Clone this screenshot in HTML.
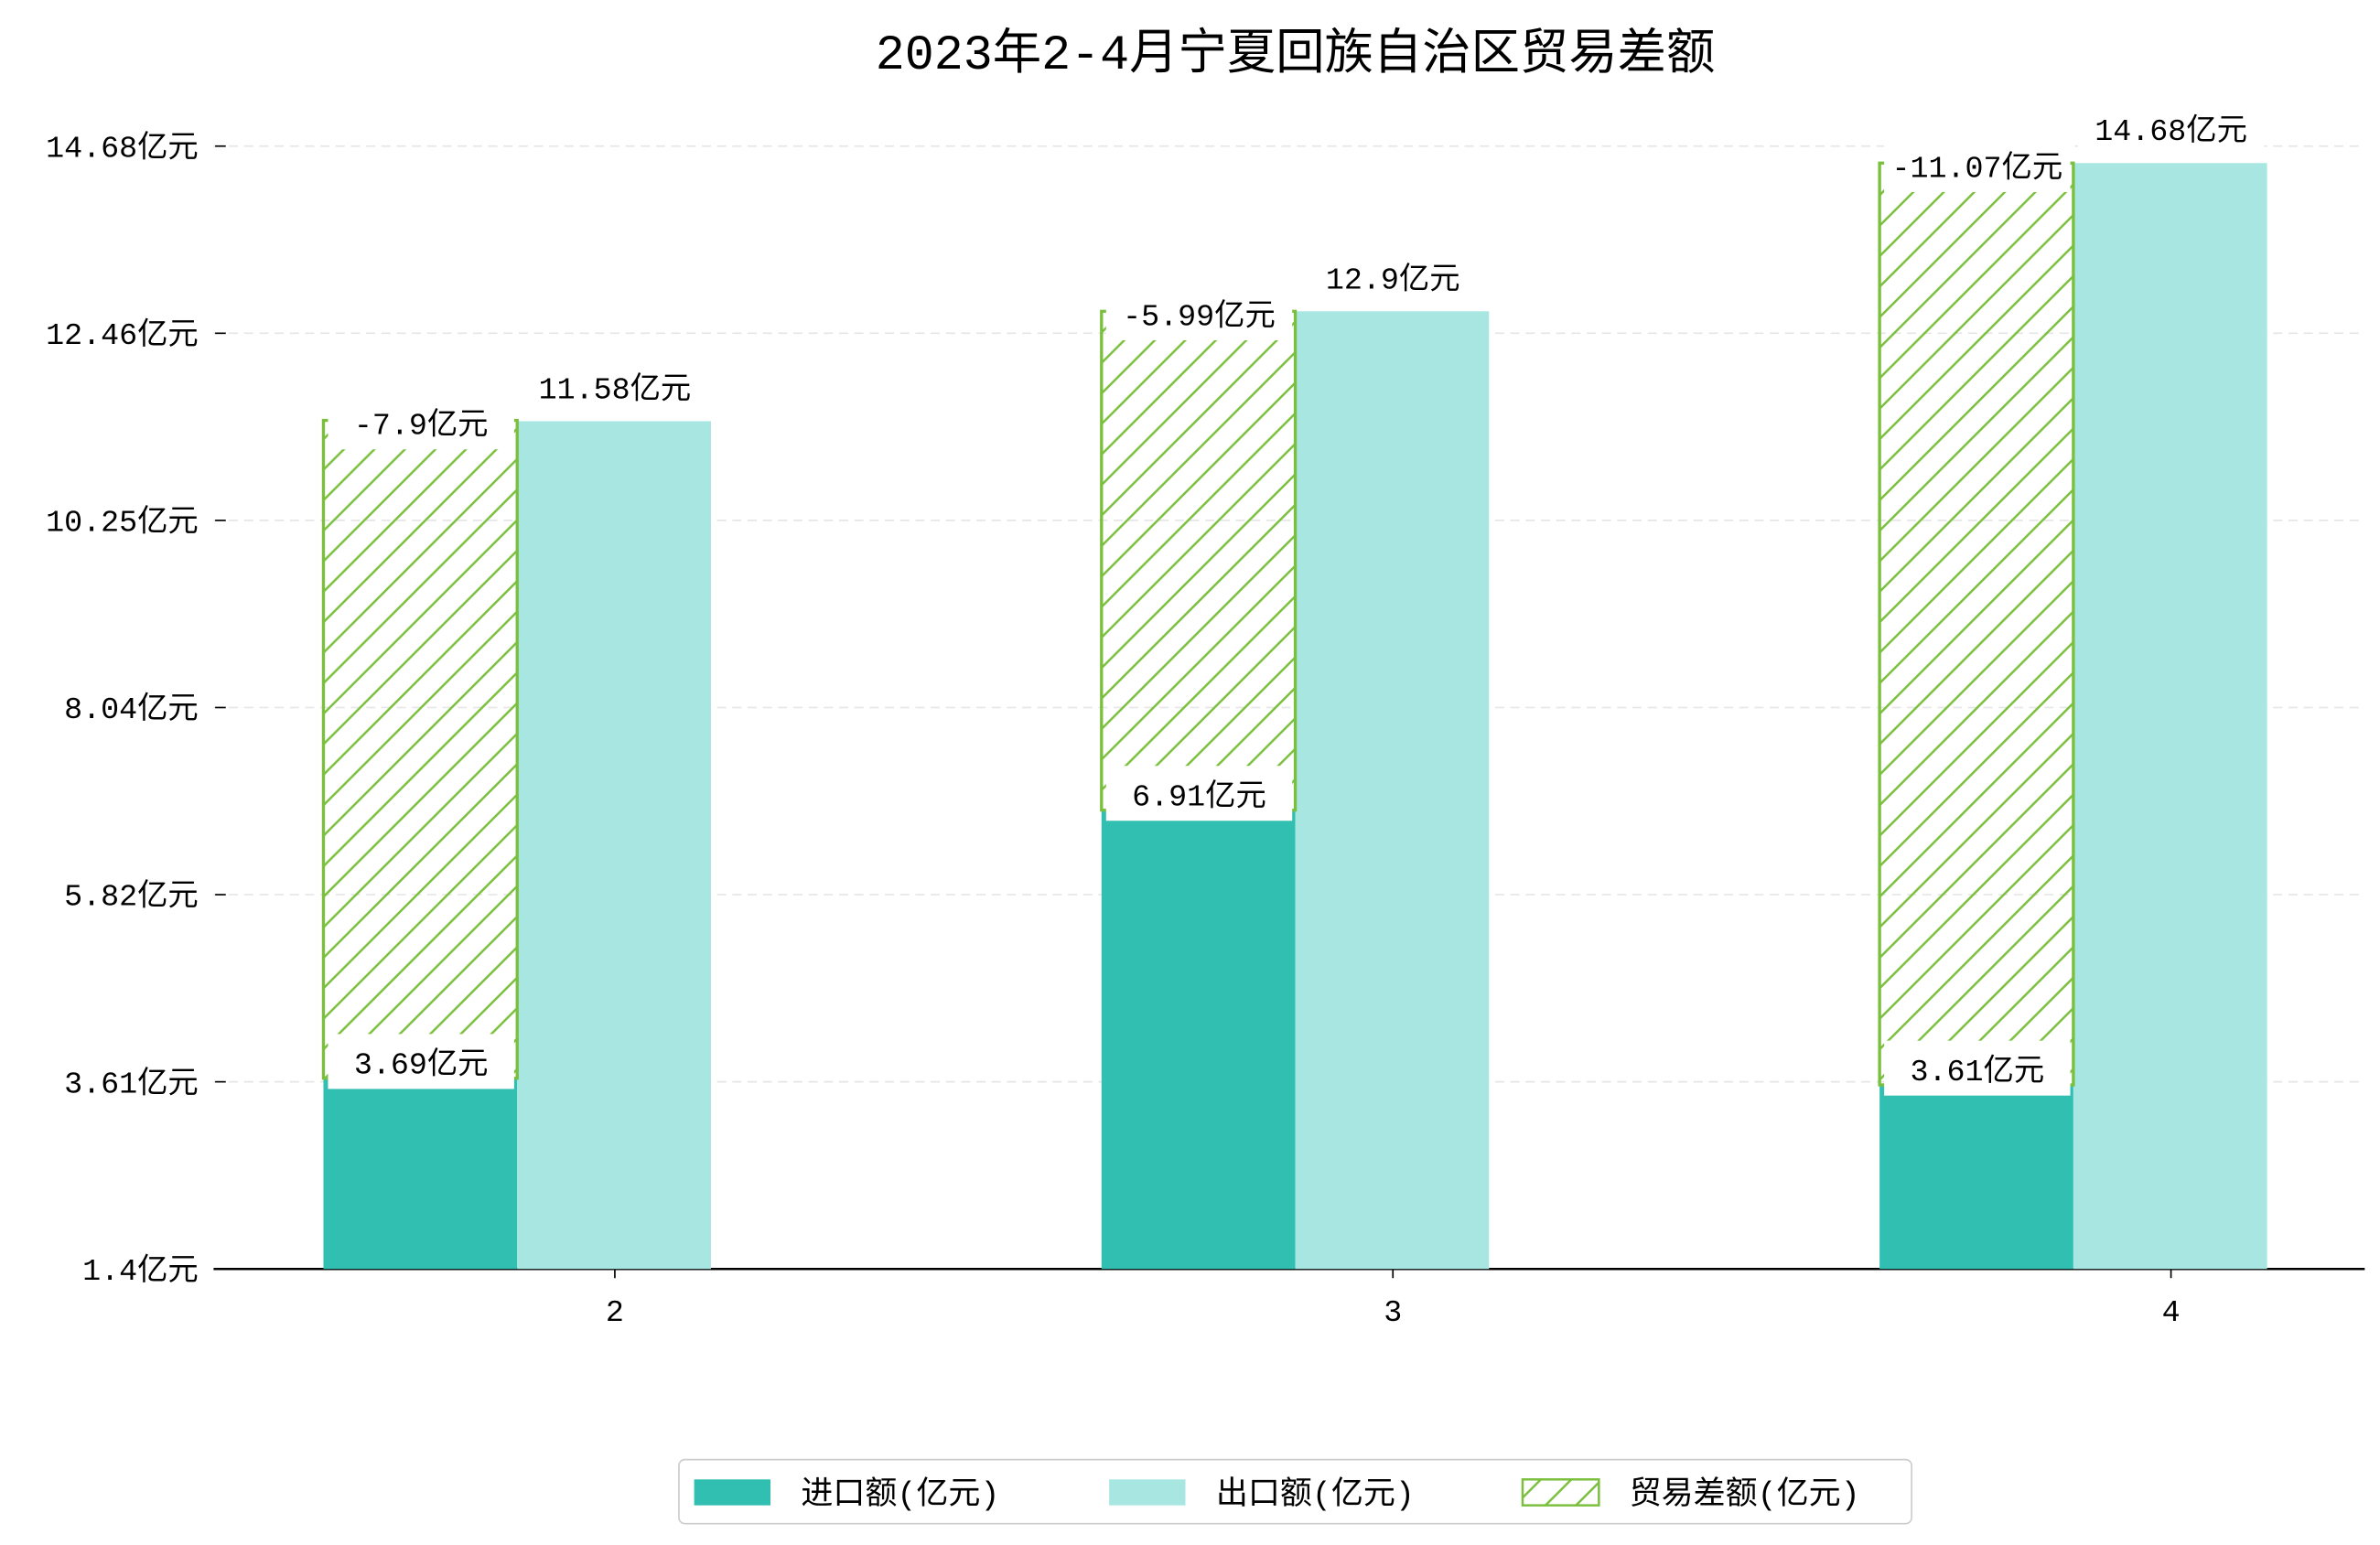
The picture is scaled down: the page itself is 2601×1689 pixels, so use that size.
<!DOCTYPE html>
<html><head><meta charset="utf-8"><style>
html,body{margin:0;padding:0;background:#fff;}
svg{display:block;font-family:"Liberation Mono","Noto Sans CJK SC",monospace;}
</style></head><body>
<svg id="chart" width="2601" height="1689" viewBox="0 0 1560 1013" xmlns="http://www.w3.org/2000/svg">
<defs>
<pattern id="hatch" patternUnits="userSpaceOnUse" width="20" height="20">
<path d="M-5,5 L5,-5 M0,20 L20,0 M15,25 L25,15" stroke="#7bbf3e" stroke-width="1.5"/>
</pattern>
</defs>
<text x="849" y="45" text-anchor="middle" font-size="32" fill="#000">2023年2-4月宁夏回族自治区贸易差额</text>
<g id="grid"></g><g id="bars"></g><g id="labels"></g>
<g>
<rect x="445" y="957" width="808" height="42" rx="4" fill="#fff" stroke="#ccc"/>
<rect x="455" y="970" width="50" height="17" fill="#31bfb2"/>
<text x="525" y="986" font-size="21">进口额(亿元)</text>
<rect x="727" y="970" width="50" height="17" fill="#a8e6e1"/>
<text x="797" y="986" font-size="21">出口额(亿元)</text>
<rect x="998" y="970" width="50" height="17" fill="url(#hatch)" stroke="#7bbf3e" stroke-width="1.5"/>
<text x="1068" y="986" font-size="21">贸易差额(亿元)</text>
</g>
</svg>
<script>
const categories=["2","3","4"];
const importVals=[3.69,6.91,3.61];
const exportVals=[11.58,12.9,14.68];
const balanceVals=[-7.9,-5.99,-11.07];
const tickVals=[1.4,3.61,5.82,8.04,10.25,12.46,14.68];
const NS="http://www.w3.org/2000/svg";
const Y0=832,YMIN=1.4,PX=54.6;
function y(v){return Y0-(v-YMIN)*PX;}
function xc(i){return 403+i*510;}
function mk(tag,attrs,parent,text){const e=document.createElementNS(NS,tag);for(const k in attrs)e.setAttribute(k,attrs[k]);if(text!==undefined)e.textContent=text;document.getElementById(parent).appendChild(e);return e;}
tickVals.forEach((v,i)=>{
  const yy=Y0-i*122.7;
  let g=mk('line',{x1:140,x2:1550,y1:yy,y2:yy,stroke:'#e6e6e6','stroke-dasharray':'6,4'},'grid');
  
  
  mk('line',{x1:141,x2:148,y1:yy,y2:yy,stroke:'#000'},'grid');
  let t=mk('text',{x:130,y:yy+7,'text-anchor':'end','font-size':'20'},'grid',(+v.toFixed(2))+'亿元');
  
  
});
let ax=mk('line',{x1:140,x2:1550,y1:Y0,y2:Y0,stroke:'#000','stroke-width':1.5},'grid');


categories.forEach((c,i)=>{
  const cx=xc(i),w=127;
  mk('line',{x1:cx,x2:cx,y1:Y0,y2:Y0+6,stroke:'#000'},'grid');
  let xt=mk('text',{x:cx,y:Y0+34,'text-anchor':'middle','font-size':'20'},'grid',c);
  
  
  const yi=y(importVals[i]),ye=y(exportVals[i]),yb=y(importVals[i]+Math.abs(balanceVals[i]));
  let b1=mk('rect',{x:cx-191,y:yi,width:w,height:Y0-yi,fill:'#31bfb2'},'bars');
  
  
  let b2=mk('rect',{x:cx-64,y:ye,width:w,height:Y0-ye,fill:'#a8e6e1'},'bars');
  
  
  let b3=mk('rect',{x:cx-191,y:yb,width:w,height:yi-yb,fill:'url(#hatch)',stroke:'#7bbf3e','stroke-width':2},'bars');
  
  
  const lbl=(x,yy,txt,nm)=>{
    mk('rect',{x:x-61,y:yy-26,width:122,height:36,fill:'#fff'},'labels');
    let t=mk('text',{x:x,y:yy,'text-anchor':'middle','font-size':'20'},'labels',txt);
    
    
  };
  lbl(cx-127,yi-3,importVals[i]+'亿元','import-label-'+c);
  lbl(cx-127,yb+9,balanceVals[i]+'亿元','balance-label-'+c);
  lbl(cx,ye-15,exportVals[i]+'亿元','export-label-'+c);
});
</script>
</body></html>
